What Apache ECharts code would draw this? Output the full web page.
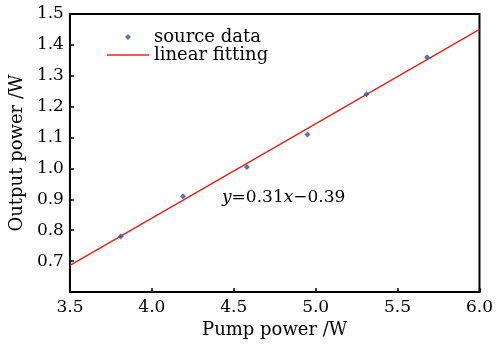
<!DOCTYPE html>
<html><head><meta charset="utf-8">
<script src="https://cdn.jsdelivr.net/npm/echarts@6/dist/echarts.min.js"></script>
<style>html,body{margin:0;padding:0;background:#fff}#c{width:496px;height:344px}</style>
</head><body><div id="c"></div>
<script>
const pumpPower = [3.81, 4.19, 4.58, 4.95, 5.31, 5.68];
const outputPower = [0.78, 0.91, 1.005, 1.11, 1.24, 1.36];
const fitX = [3.5, 6.0];
const fitY = [0.686, 1.45];
const xTicks = [3.5, 4.0, 4.5, 5.0, 5.5, 6.0];
const yTicks = [0.6, 0.7, 0.8, 0.9, 1.0, 1.1, 1.2, 1.3, 1.4, 1.5];
const font = 'DejaVu Serif';

const chart = echarts.init(document.getElementById('c'), null, {renderer: 'canvas'});
chart.setOption({
  backgroundColor: '#fff',
  animation: false,
  grid: {left: 68, right: 14, top: 14, bottom: 52, show: true, borderColor: '#000', borderWidth: 2, backgroundColor: 'transparent'},
  legend: {
    orient: 'vertical', left: 102, top: 23, itemWidth: 42, itemHeight: 6, itemGap: 0,
    padding: 5, symbolKeepAspect: true,
    textStyle: {fontFamily: font, fontSize: 18, color: '#000', lineHeight: 18},
    data: [
      {name: 'source data', icon: 'path://M0,-3 L3,0 L0,3 L-3,0 Z', itemStyle: {color: '#2d52a6'}},
      {name: 'linear fitting', icon: 'path://M0,0 L42,0 L42,1.5 L0,1.5 Z', itemStyle: {color: '#e8231f'}}
    ]
  },
  xAxis: {
    type: 'value', min: 3.5, max: 6.0, interval: 0.5,
    name: 'Pump power /W', nameLocation: 'middle', nameGap: 25,
    nameTextStyle: {fontFamily: font, fontSize: 18, color: '#000'},
    axisLine: {show: true, lineStyle: {color: '#000', width: 2}},
    axisTick: {show: true, inside: true, length: 4, lineStyle: {color: '#000', width: 1.5}},
    axisLabel: {fontFamily: font, fontSize: 17, color: '#000', margin: 7,
      formatter: v => xTicks.includes(+v.toFixed(1)) ? v.toFixed(1) : ''},
    splitLine: {show: false}
  },
  yAxis: {
    type: 'value', min: 0.6, max: 1.5, interval: 0.1,
    name: 'Output power /W', nameLocation: 'middle', nameGap: 42,
    nameTextStyle: {fontFamily: font, fontSize: 18, color: '#000'},
    axisLine: {show: true, lineStyle: {color: '#000', width: 2}},
    axisTick: {show: true, inside: true, length: 4, lineStyle: {color: '#000', width: 1.5}},
    axisLabel: {fontFamily: font, fontSize: 17, color: '#000', margin: 6,
      formatter: v => (yTicks.includes(+v.toFixed(1)) && v > 0.65) ? v.toFixed(1) : ''},
    splitLine: {show: false}
  },
  series: [
    {
      name: 'linear fitting', type: 'line', symbol: 'none', showSymbol: false,
      lineStyle: {color: '#e8231f', width: 1.5},
      itemStyle: {color: '#e8231f'},
      data: fitX.map((x, i) => [x, fitY[i]]), z: 2
    },
    {
      name: 'source data', type: 'scatter', symbol: 'diamond', symbolSize: 6,
      itemStyle: {color: '#2d52a6'},
      data: pumpPower.map((x, i) => [x, outputPower[i]]), z: 3
    }
  ],
  graphic: [{
    type: 'text', left: 222, top: 189,
    style: {
      text: '{i|y}{n|=0.31}{i|x}{n|\u22120.39}',
      rich: {
        i: {fontFamily: font, fontStyle: 'italic', fontSize: 17, fill: '#000'},
        n: {fontFamily: font, fontSize: 17, fill: '#000'}
      }
    }
  }]
});
</script></body></html>
